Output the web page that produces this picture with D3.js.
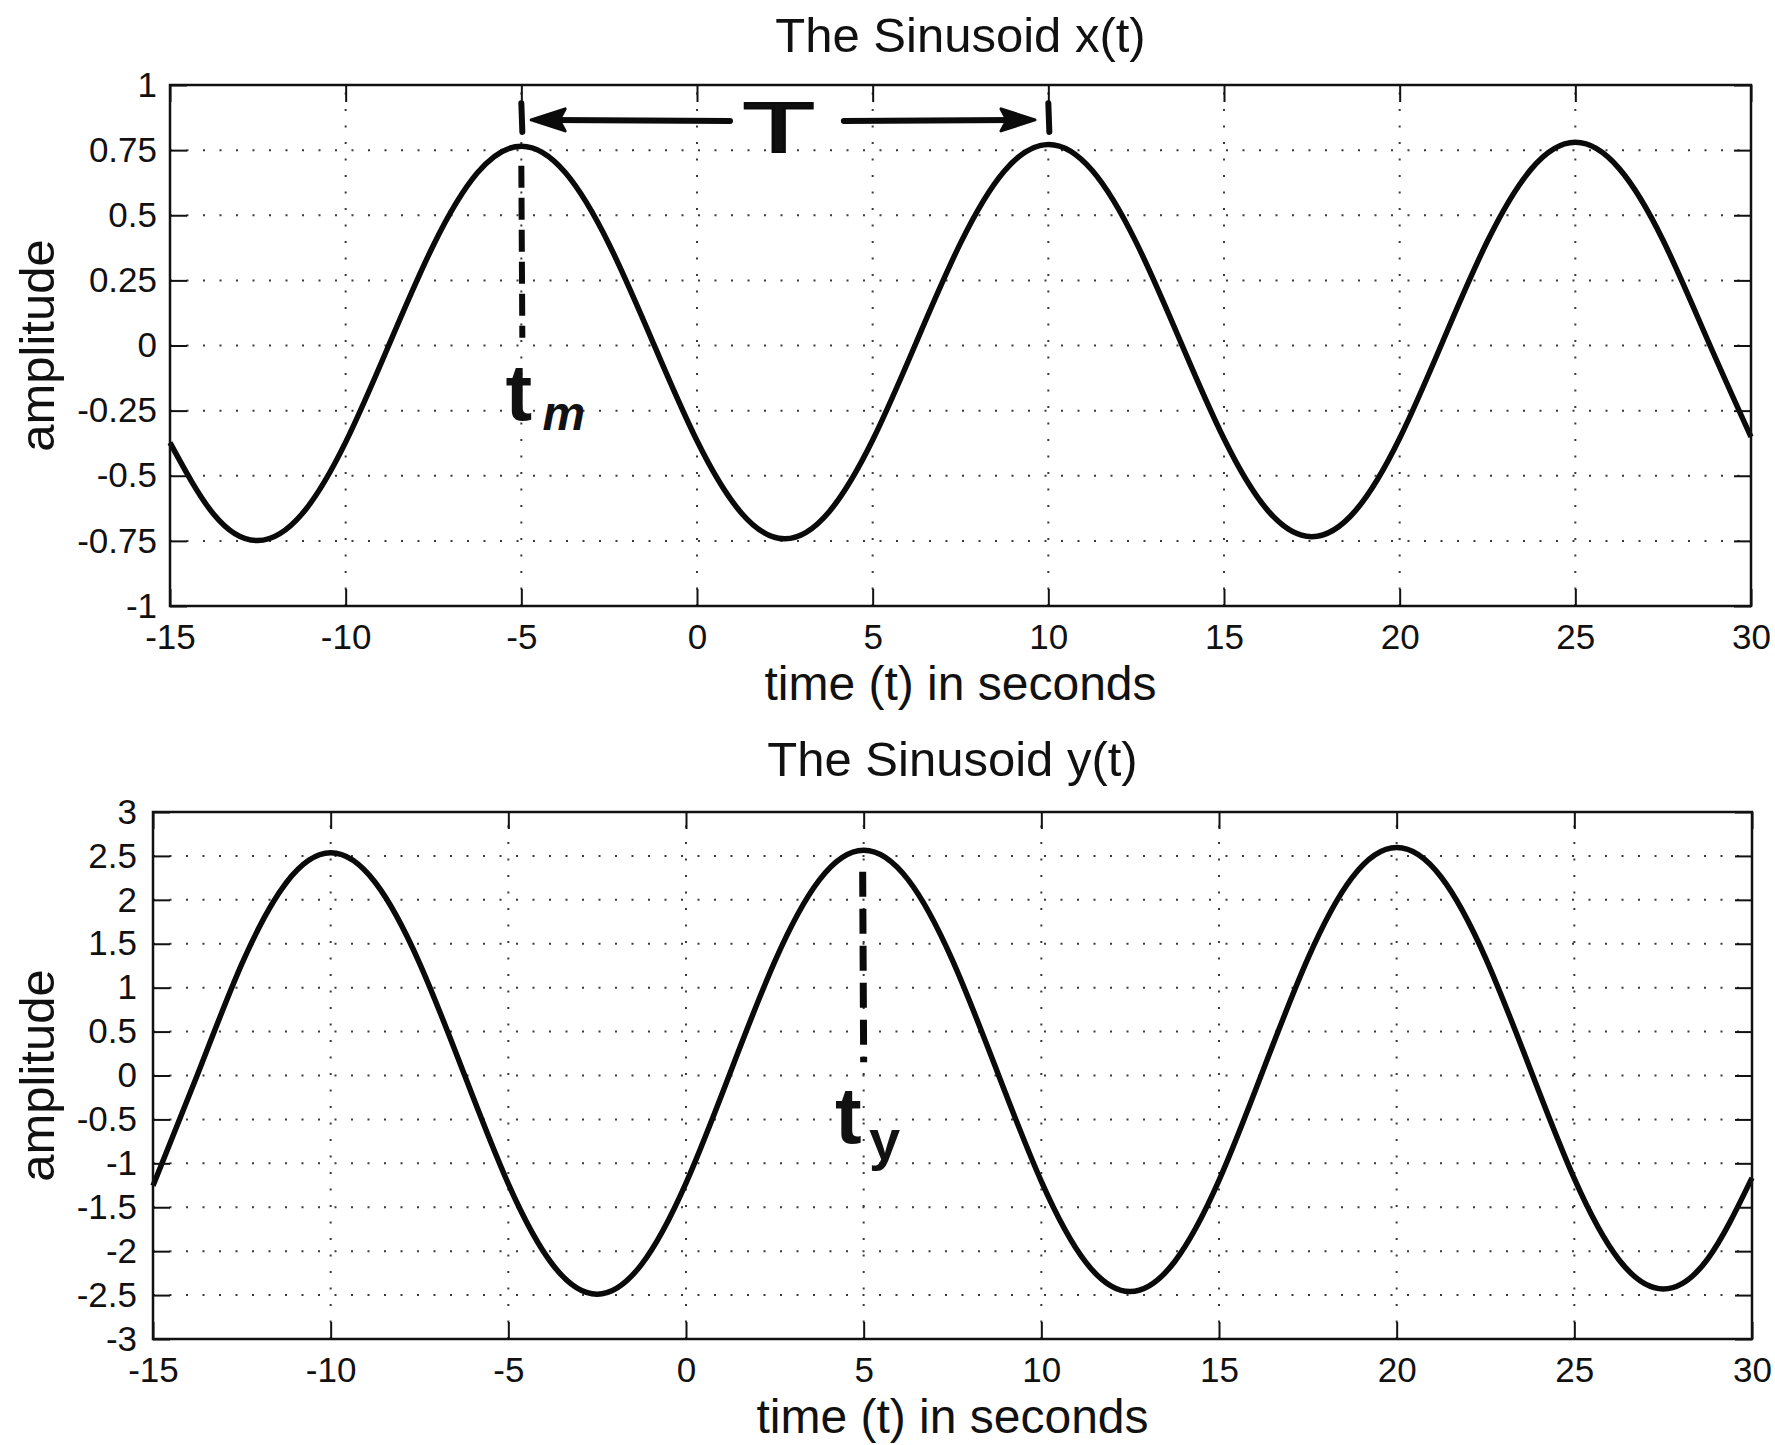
<!DOCTYPE html>
<html>
<head>
<meta charset="utf-8">
<script src="https://cdn.jsdelivr.net/npm/d3@7"></script>
<style>
  body { margin: 0; background: #ffffff; }
  svg { display: block; }
  text { font-family: "Liberation Sans", Arial, Helvetica, sans-serif; fill: #111; }
</style>
</head>
<body>
<svg id="chart" width="1775" height="1445"></svg>
<script>
// ---------------- DATA ----------------
const timeValues = [-15,-13.75,-12.5,-11.25,-10,-8.75,-7.5,-6.25,-5,-3.75,-2.5,-1.25,0,1.25,2.5,3.75,5,6.25,7.5,8.75,10,11.25,12.5,13.75,15,16.25,17.5,18.75,20,21.25,22.5,23.75,25,26.25,27.5,28.75,30];

const xSignal = [-0.373,-0.649,-0.749,-0.648,-0.371,0.008,0.386,0.663,0.765,0.664,0.388,0.011,-0.366,-0.641,-0.742,-0.640,-0.363,0.015,0.393,0.670,0.772,0.672,0.396,0.019,-0.358,-0.634,-0.734,-0.633,-0.356,0.023,0.401,0.678,0.780,0.679,0.403,0.026,-0.351];

const ySignal = [-1.255,0.008,1.270,2.195,2.535,2.200,1.280,0.023,-1.235,-2.155,-2.490,-2.150,-1.225,0.038,1.300,2.225,2.565,2.230,1.310,0.053,-1.205,-2.125,-2.460,-2.120,-1.195,0.068,1.330,2.255,2.595,2.260,1.340,0.083,-1.175,-2.095,-2.430,-2.090,-1.165];

const timeTicks = [-15,-10,-5,0,5,10,15,20,25,30];
const timeTickLabels = ["-15","-10","-5","0","5","10","15","20","25","30"];

const xAmpTicks = [-1,-0.75,-0.5,-0.25,0,0.25,0.5,0.75,1];
const xAmpTickLabels = ["-1","-0.75","-0.5","-0.25","0","0.25","0.5","0.75","1"];

const yAmpTicks = [-3,-2.5,-2,-1.5,-1,-0.5,0,0.5,1,1.5,2,2.5,3];
const yAmpTickLabels = ["-3","-2.5","-2","-1.5","-1","-0.5","0","0.5","1","1.5","2","2.5","3"];

const titles = ["The Sinusoid x(t)", "The Sinusoid y(t)"];
const xAxisTitle = "time (t) in seconds";
const yAxisTitle = "amplitude";

// hand annotations (data units)
const periodMarkTimes = [-5, 10];          // the two "|" marks
const periodMarkAmp = [0.82, 0.93];
const periodArrowAmp = 0.866;
const leftArrowTimes = [0.94, -4.72];      // from, to (tip)
const rightArrowTimes = [4.18, 9.62];
const periodLabel = { text: "T", t: 2.33, v: 0.743 };
const tmGuide = { t: -5, from: 0.69, to: 0.03 };
const tmLabel = { main: "t", sub: "m", t: -5.45, v: -0.286, subT: -4.4, subV: -0.324 };
const tyGuide = { t: 5, from: 2.32, to: 0.15 };
const tyLabel = { main: "t", sub: "y", t: 4.19, v: -0.769, subT: 5.15, subV: -0.951 };

// ---------------- DRAWING ----------------
const svg = d3.select("#chart");

function panel(cfg) {
  const x = d3.scaleLinear().domain([timeTicks[0], timeTicks[timeTicks.length - 1]]).range([cfg.left, cfg.right]);
  const y = d3.scaleLinear().domain([cfg.yTicks[0], cfg.yTicks[cfg.yTicks.length - 1]]).range([cfg.bottom, cfg.top]);
  const g = svg.append("g");

  // dotted grid
  const grid = g.append("g").attr("stroke", "#3a3a3a").attr("stroke-width", 2)
    .attr("stroke-dasharray", "2,14.5").attr("fill", "none");
  grid.selectAll("line.gx").data(timeTicks.slice(1, -1)).join("line")
    .attr("class", "gx")
    .attr("x1", d => x(d)).attr("x2", d => x(d))
    .attr("y1", cfg.bottom).attr("y2", cfg.top);
  grid.selectAll("line.gy").data(cfg.yTicks.slice(1, -1)).join("line")
    .attr("class", "gy")
    .attr("x1", cfg.left).attr("x2", cfg.right)
    .attr("y1", d => y(d)).attr("y2", d => y(d));

  // curve
  const line = d3.line().x((d, i) => x(timeValues[i])).y(d => y(d)).curve(d3.curveNatural);
  g.append("path").datum(cfg.values)
    .attr("d", line).attr("fill", "none").attr("stroke", "#0a0a0a")
    .attr("stroke-width", 5.5).attr("stroke-linejoin", "round");

  // axes
  const fs = 35;
  const styleAxis = sel => {
    sel.select(".domain").remove();
    sel.selectAll(".tick line").attr("stroke", "#111").attr("stroke-width", 2);
    sel.selectAll(".tick text").attr("font-size", fs).attr("fill", "#111")
      .attr("font-family", "\"Liberation Sans\", Arial, sans-serif");
    sel.attr("font-size", fs).attr("font-family", null);
  };
  g.append("g").attr("transform", `translate(0,${cfg.bottom})`)
    .call(d3.axisBottom(x).tickValues(timeTicks).tickFormat((d, i) => timeTickLabels[i])
      .tickSizeInner(-17).tickSizeOuter(0).tickPadding(18))
    .call(styleAxis);
  g.append("g").attr("transform", `translate(0,${cfg.top})`)
    .call(d3.axisTop(x).tickValues(timeTicks).tickFormat("").tickSizeInner(-17).tickSizeOuter(0))
    .call(styleAxis);
  g.append("g").attr("transform", `translate(${cfg.left},0)`)
    .call(d3.axisLeft(y).tickValues(cfg.yTicks).tickFormat((d, i) => cfg.yLabels[i])
      .tickSizeInner(-17).tickSizeOuter(0).tickPadding(cfg.yPad))
    .call(styleAxis);
  g.append("g").attr("transform", `translate(${cfg.right},0)`)
    .call(d3.axisRight(y).tickValues(cfg.yTicks).tickFormat("").tickSizeInner(-17).tickSizeOuter(0))
    .call(styleAxis);

  // box
  g.append("rect").attr("x", cfg.left).attr("y", cfg.top)
    .attr("width", cfg.right - cfg.left).attr("height", cfg.bottom - cfg.top)
    .attr("fill", "none").attr("stroke", "#111").attr("stroke-width", 2.5);

  // titles
  const cx = (cfg.left + cfg.right) / 2;
  g.append("text").attr("x", cx).attr("y", cfg.titleY).attr("text-anchor", "middle")
    .attr("font-size", 49).text(cfg.title);
  g.append("text").attr("x", cx).attr("y", cfg.xlabelY).attr("text-anchor", "middle")
    .attr("font-size", 48).text(xAxisTitle);
  g.append("text").attr("transform", `translate(${cfg.ylabelX},${(cfg.top + cfg.bottom) / 2}) rotate(-90)`)
    .attr("text-anchor", "middle").attr("font-size", 49).text(yAxisTitle);

  return { x, y, g };
}

const topPanel = panel({
  left: 170, right: 1751, top: 85, bottom: 606,
  yTicks: xAmpTicks, yLabels: xAmpTickLabels, values: xSignal,
  title: titles[0], titleY: 52, xlabelY: 700, ylabelX: 54, yPad: 13
});
const botPanel = panel({
  left: 153, right: 1752, top: 812, bottom: 1339,
  yTicks: yAmpTicks, yLabels: yAmpTickLabels, values: ySignal,
  title: titles[1], titleY: 776, xlabelY: 1433, ylabelX: 54, yPad: 16
});

// ---------------- HAND ANNOTATIONS ----------------
const ink = "#0b0b0b";
const hand = "\"DejaVu Sans\", \"Liberation Sans\", sans-serif";

(function () {
  const { x, y, g } = topPanel;
  const a = g.append("g");
  // period marks
  a.selectAll("line.pm").data(periodMarkTimes).join("line")
    .attr("class", "pm")
    .attr("x1", d => x(d)).attr("x2", d => x(d) + 1)
    .attr("y1", y(periodMarkAmp[1])).attr("y2", y(periodMarkAmp[0]))
    .attr("stroke", ink).attr("stroke-width", 6).attr("stroke-linecap", "round");
  // arrows
  const ay = y(periodArrowAmp);
  const arrow = (from, to) => {
    const x0 = x(from), x1 = x(to), dir = Math.sign(x1 - x0);
    a.append("line").attr("x1", x0).attr("x2", x1 - dir * 20).attr("y1", ay + 1).attr("y2", ay)
      .attr("stroke", ink).attr("stroke-width", 6).attr("stroke-linecap", "round");
    a.append("path")
      .attr("d", `M${x1},${ay} L${x1 - dir * 34},${ay - 11} L${x1 - dir * 28},${ay} L${x1 - dir * 34},${ay + 11} Z`)
      .attr("fill", ink).attr("stroke", ink).attr("stroke-width", 3).attr("stroke-linejoin", "round");
  };
  arrow(leftArrowTimes[0], leftArrowTimes[1]);
  arrow(rightArrowTimes[0], rightArrowTimes[1]);
  a.append("text").attr("x", x(periodLabel.t)).attr("y", y(periodLabel.v))
    .attr("text-anchor", "middle").attr("font-family", hand)
    .attr("font-size", 70).attr("textLength", 72).attr("lengthAdjust", "spacingAndGlyphs")
    .attr("fill", ink).attr("stroke", ink).attr("stroke-width", 2).text(periodLabel.text);
  // guide
  a.append("line").attr("x1", x(tmGuide.t)).attr("x2", x(tmGuide.t) + 1)
    .attr("y1", y(tmGuide.from)).attr("y2", y(tmGuide.to))
    .attr("stroke", ink).attr("stroke-width", 6).attr("stroke-dasharray", "22,10");
  a.append("text").attr("x", x(tmLabel.t)).attr("y", y(tmLabel.v))
    .attr("font-family", hand).attr("font-weight", "bold").attr("font-size", 80)
    .attr("fill", ink).text(tmLabel.main);
  a.append("text").attr("x", x(tmLabel.subT)).attr("y", y(tmLabel.subV))
    .attr("font-family", hand).attr("font-weight", "bold").attr("font-style", "italic")
    .attr("font-size", 48).attr("fill", ink).text(tmLabel.sub);
})();

(function () {
  const { x, y, g } = botPanel;
  const a = g.append("g");
  a.append("line").attr("x1", x(tyGuide.t) - 1).attr("x2", x(tyGuide.t))
    .attr("y1", y(tyGuide.from)).attr("y2", y(tyGuide.to))
    .attr("stroke", ink).attr("stroke-width", 7).attr("stroke-dasharray", "25,12");
  a.append("text").attr("x", x(tyLabel.t)).attr("y", y(tyLabel.v))
    .attr("font-family", hand).attr("font-weight", "bold").attr("font-size", 80)
    .attr("fill", ink).text(tyLabel.main);
  a.append("text").attr("x", x(tyLabel.subT)).attr("y", y(tyLabel.subV))
    .attr("font-family", hand).attr("font-weight", "bold")
    .attr("font-size", 56).attr("fill", ink).text(tyLabel.sub);
})();
</script>
</body>
</html>
